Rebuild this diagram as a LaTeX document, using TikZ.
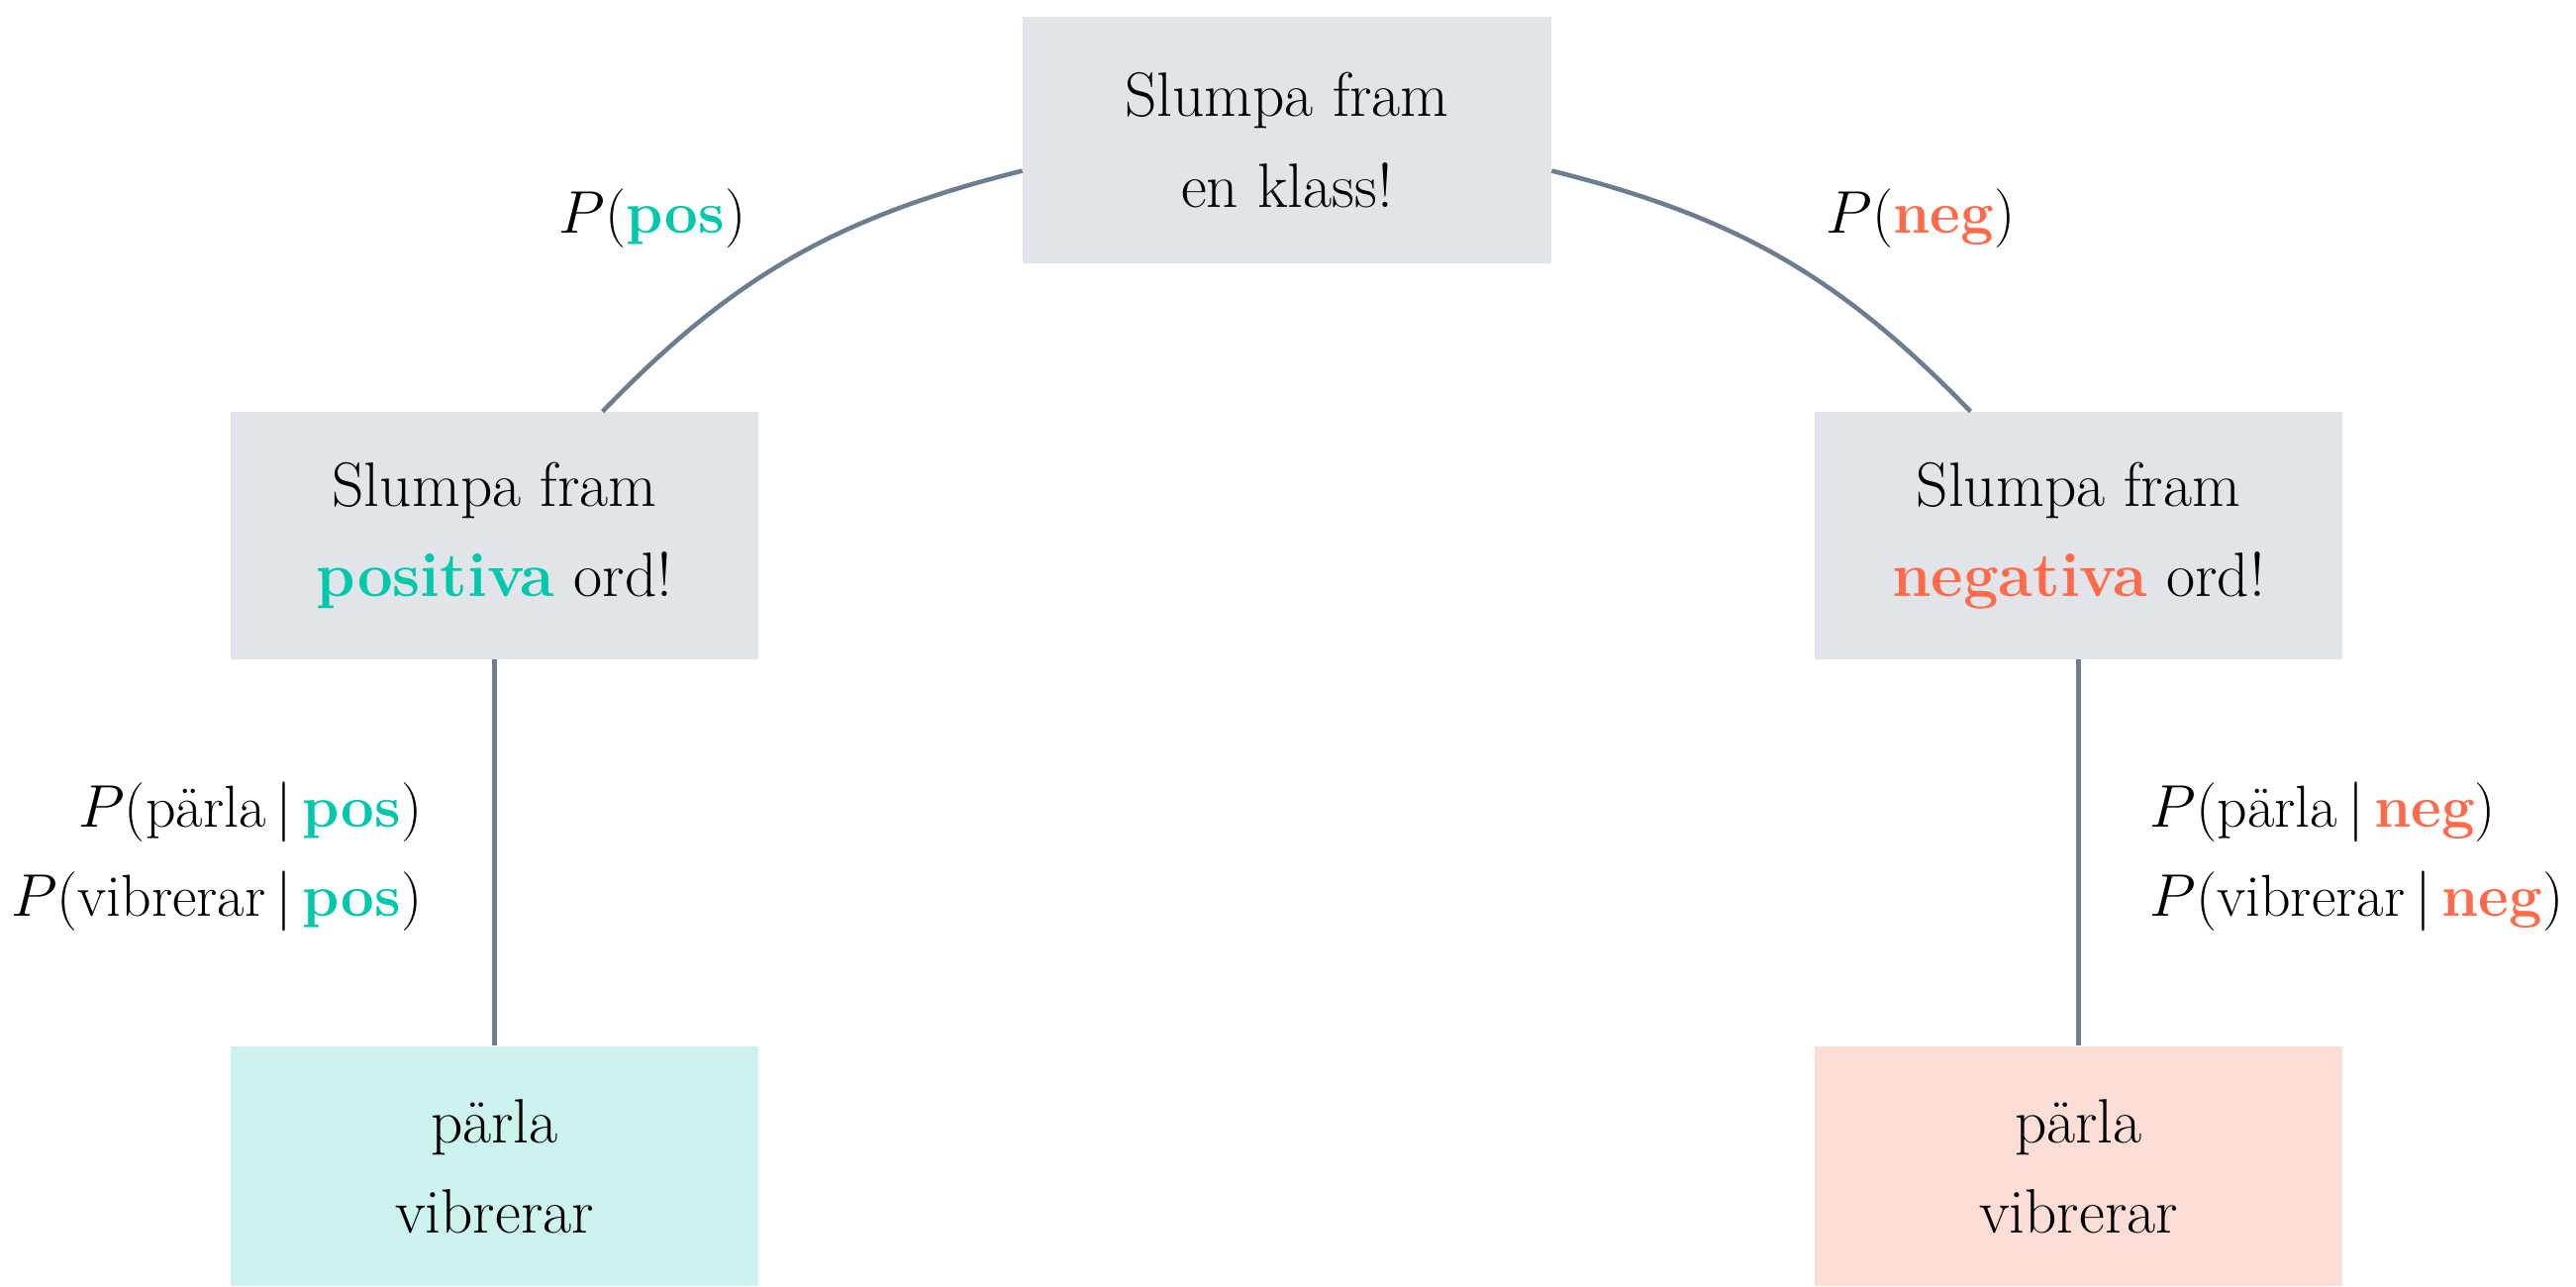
\documentclass[tikz,border=0pt]{standalone}
\usepackage{fontspec}
\definecolor{teal}{RGB}{0,200,170}
\definecolor{coral}{RGB}{255,107,74}
\definecolor{boxgray}{RGB}{225,228,233}
\definecolor{lteal}{RGB}{204,243,238}
\definecolor{lcoral}{RGB}{252,222,214}
\definecolor{linec}{RGB}{108,125,143}
\newcommand{\pos}{\textcolor{teal}{\textbf{pos}}}
\newcommand{\negw}{\textcolor{coral}{\textbf{neg}}}
\begin{document}
\begin{tikzpicture}[x=0.01cm,y=-0.01cm,
  every node/.style={font=\fontsize{18}{26}\selectfont},
  stepbox/.style={fill=boxgray,minimum width=5.33cm,minimum height=2.49cm,align=center,inner sep=0pt},
  posbox/.style={stepbox,fill=lteal,minimum height=2.42cm},
  negbox/.style={stepbox,fill=lcoral,minimum height=2.42cm},
  conn/.style={draw=linec,line width=1.3pt},
  lbl/.style={inner sep=0pt,font=\fontsize{17}{26}\selectfont}]
\useasboundingbox (0,0) rectangle (2602,1299);
\node[stepbox] (top) at (1300,141.5) {Slumpa fram\\en klass!};
\node[stepbox] (lmid) at (499.5,541) {Slumpa fram\\\textcolor{teal}{\textbf{positiva}} ord!};
\node[stepbox] (rmid) at (2099.5,541) {Slumpa fram\\\textcolor{coral}{\textbf{negativa}} ord!};
\node[posbox] (lbot) at (499.5,1178) {pärla\\vibrerar};
\node[negbox] (rbot) at (2099.5,1178) {pärla\\vibrerar};
\coordinate (tl) at ([yshift=-0.31cm]top.west);
\coordinate (tr) at ([yshift=-0.31cm]top.east);
\coordinate (le) at ([xshift=1.09cm]lmid.north);
\coordinate (re) at ([xshift=-1.09cm]rmid.north);
\draw[conn] (tl) to[out=194,in=46] (le);
\draw[conn] (tr) to[out=-14,in=134] (re);
\draw[conn] (lmid.south) -- (lbot.north);
\draw[conn] (rmid.south) -- (rbot.north);
\node[lbl] (lp) at (659,221) {$P$(\pos)};
\node[lbl] (rp) at (1940,221) {$P$(\negw)};
\node[lbl,anchor=east] (lc1) at (427,820) {$P$(pärla$\,|\,$\pos)};
\node[lbl,anchor=east] (lc2) at (427,910) {$P$(vibrerar$\,|\,$\pos)};
\node[lbl,anchor=west] (rc1) at (2171,820) {$P$(pärla$\,|\,$\negw)};
\node[lbl,anchor=west] (rc2) at (2171,910) {$P$(vibrerar$\,|\,$\negw)};
\end{tikzpicture}
\end{document}
